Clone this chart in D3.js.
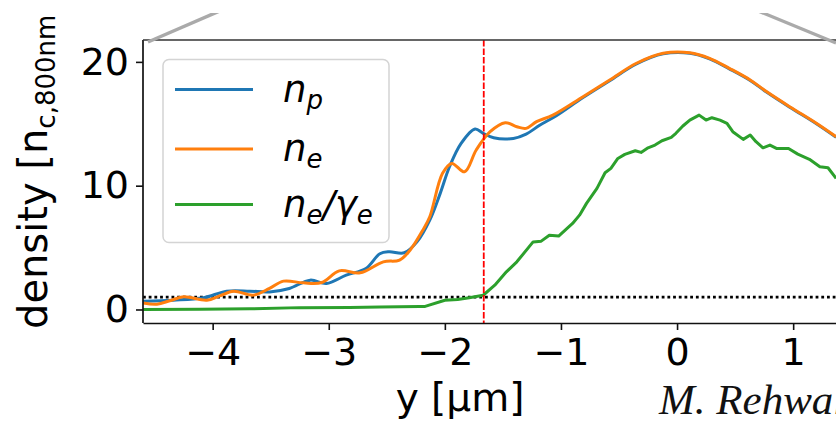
<!DOCTYPE html>
<html>
<head>
<meta charset="utf-8">
<script src="https://cdn.jsdelivr.net/npm/d3@7"></script>
<style>
    html, body { margin: 0; padding: 0; background: #fff; }
    #chart { width: 836px; height: 424px; }
</style>
</head>
<body>
<div id="chart"></div>
<script>
// transverse position y [um] and density [n_c]
const npY = [-4.60, -4.34, -4.08, -3.88, -3.68, -3.51, -3.34, -3.16, -3.02, -2.85, -2.68, -2.56, -2.48, -2.35, -2.24,
    -2.13, -2.04, -1.96, -1.86, -1.74, -1.67, -1.58, -1.41, -1.30, -1.18, -1.04, -0.81,
    -0.58, -0.35, -0.12, 0.11, 0.28, 0.45, 0.63, 0.77, 0.97, 1.20, 1.37];
const npVal = [0.67, 0.75, 0.94, 1.48, 1.48, 1.42, 1.70, 2.37, 2.10, 2.77, 3.31, 4.50, 4.66, 4.58, 5.46,
    7.22, 9.38, 11.53, 13.42, 14.58, 14.23, 13.87, 13.82, 14.17, 14.90, 15.65, 17.12,
    18.48, 19.83, 20.65, 20.70, 20.25, 19.44, 18.50, 17.56, 16.34, 15.00, 13.91];

const neY = [-4.60, -4.48, -4.37, -4.25, -4.05, -3.94, -3.82, -3.65, -3.51, -3.39, -3.22, -3.06, -2.91, -2.73, -2.53,
    -2.39, -2.30, -2.19, -2.13, -2.02, -1.94, -1.83, -1.73, -1.61, -1.48, -1.38, -1.30, -1.21, -1.07, -0.81,
    -0.58, -0.35, -0.12, 0.11, 0.28, 0.45, 0.63, 0.77, 0.97, 1.20, 1.37];
const neVal = [0.53, 0.43, 0.70, 1.02, 0.75, 1.10, 1.48, 1.16, 1.70, 2.29, 2.15, 2.18, 3.12, 2.96, 3.85,
    3.99, 4.79, 6.41, 7.49, 11.00, 11.80, 11.12, 12.88, 14.36, 15.09, 14.76, 14.63, 15.17, 15.70, 17.19,
    18.54, 19.89, 20.70, 20.74, 20.29, 19.48, 18.54, 17.60, 16.38, 15.04, 13.95];

const neGammaY = [-4.60, -4.11, -3.68, -3.25, -2.82, -2.56, -2.22, -2.17, -2.00, -1.89, -1.79, -1.67, -1.57, -1.47,
    -1.38, -1.24, -1.17, -1.10, -1.02, -0.90, -0.84, -0.78, -0.69, -0.62, -0.57, -0.51, -0.45, -0.36, -0.31,
    -0.25, -0.19, -0.13, -0.05, -0.01, 0.05, 0.11, 0.19, 0.25, 0.30, 0.37, 0.43, 0.48, 0.57, 0.63, 0.68,
    0.74, 0.80, 0.86, 0.96, 1.04, 1.14, 1.23, 1.30, 1.37];
const neGammaVal = [0.00, 0.02, 0.05, 0.15, 0.16, 0.20, 0.25, 0.25, 0.75, 0.80, 0.95, 1.15, 1.96, 3.04,
    3.85, 5.46, 5.52, 6.00, 5.93, 6.95, 7.62, 8.57, 9.78, 11.04, 11.40, 12.20, 12.53, 12.82, 12.69,
    13.06, 13.28, 13.63, 13.90, 14.23, 14.82, 15.30, 15.70, 15.30, 15.49, 15.30, 15.04, 14.36, 13.74, 14.09, 13.55,
    13.06, 13.28, 13.00, 13.00, 12.55, 12.13, 11.53, 11.45, 10.59];

const xTicks = [-4, -3, -2, -1, 0, 1];
const yTicks = [0, 10, 20];
const criticalDensity = 1;
const laserFrontY = -1.665;

const seriesNames = ['n_p', 'n_e', 'n_e/γ_e'];
const seriesColors = ['#1f77b4', '#ff7f0e', '#2ca02c'];

class DensityProfileChart {
    constructor(container) {
        this.container = container;
        this.width = 836;
        this.height = 424;
        this.svg = d3.select(container).append('svg')
            .attr('width', this.width)
            .attr('height', this.height);
    }

    draw() {
        const svg = this.svg;
        // axes box runs off the right edge of the picture
        const margin = { top: 40, left: 143, bottom: 101 };
        const plotBottom = this.height - margin.bottom;

        const x = d3.scaleLinear().domain([-4.6, 1.4]).range([margin.left, margin.left + 6 * 116.1]);
        const y = d3.scaleLinear().domain([-1.1, 21.8]).range([plotBottom + 0.1, margin.top - 0.4]);

        svg.append('clipPath').attr('id', 'plotClip')
            .append('rect')
            .attr('x', margin.left).attr('y', margin.top)
            .attr('width', this.width).attr('height', plotBottom - margin.top);

        const plot = svg.append('g').attr('clip-path', 'url(#plotClip)');

        // n_c reference line
        plot.append('line')
            .attr('x1', x(-4.6)).attr('x2', x(1.4))
            .attr('y1', y(criticalDensity)).attr('y2', y(criticalDensity))
            .style('stroke', '#000')
            .style('stroke-width', 2.8)
            .style('stroke-dasharray', '2.8,2.9');

        const smooth = d3.line()
            .x(d => x(d[0])).y(d => y(d[1]))
            .curve(d3.curveCatmullRom.alpha(0.5));
        const jagged = d3.line()
            .x(d => x(d[0])).y(d => y(d[1]));

        const series = [
            { pts: d3.zip(npY, npVal), gen: smooth },
            { pts: d3.zip(neY, neVal), gen: smooth },
            { pts: d3.zip(neGammaY, neGammaVal), gen: jagged }
        ];
        series.forEach((s, i) => {
            plot.append('path')
                .attr('d', s.gen(s.pts))
                .style('fill', 'none')
                .style('stroke', seriesColors[i])
                .style('stroke-width', 3)
                .style('stroke-linejoin', 'round');
        });

        // laser front position
        plot.append('line')
            .attr('x1', x(laserFrontY)).attr('x2', x(laserFrontY))
            .attr('y1', margin.top).attr('y2', plotBottom)
            .style('stroke', '#ff0000')
            .style('stroke-width', 1.8)
            .style('stroke-dasharray', '6.5,2');

        // axes
        const xAxis = svg.append('g')
            .attr('transform', `translate(0, ${plotBottom})`)
            .call(d3.axisBottom(x).tickValues(xTicks).tickFormat(d3.format('d'))
                .tickSize(7).tickSizeOuter(0).tickPadding(8));
        const yAxis = svg.append('g')
            .attr('transform', `translate(${margin.left}, 0)`)
            .call(d3.axisLeft(y).tickValues(yTicks).tickFormat(d3.format('d'))
                .tickSize(7).tickSizeOuter(0).tickPadding(7));

        [xAxis, yAxis].forEach(a => {
            a.select('.domain').style('stroke', '#111').style('stroke-width', 1.7);
            a.selectAll('.tick line').style('stroke', '#111').style('stroke-width', 1.6);
            a.selectAll('.tick text')
                .style('font-family', 'DejaVu Sans')
                .style('font-size', '38px')
                .style('fill', '#000');
        });
        // left axis spans the full box height
        yAxis.select('.domain').attr('d', `M0,${margin.top}V${plotBottom}`);

        svg.append('line')
            .attr('x1', margin.left).attr('x2', this.width)
            .attr('y1', margin.top).attr('y2', margin.top)
            .style('stroke', '#333')
            .style('stroke-width', 1.7);

        // zoom connector lines from the panel above
        svg.append('line')
            .attr('x1', margin.left + 5).attr('y1', margin.top + 2)
            .attr('x2', margin.left + 5 + 80).attr('y2', margin.top + 2 - 80 * 29 / 67)
            .style('stroke', '#aaa').style('stroke-width', 3.3);
        svg.append('line')
            .attr('x1', this.width).attr('y1', margin.top + 3)
            .attr('x2', this.width - 85).attr('y2', margin.top + 3 - 85 * 30 / 73)
            .style('stroke', '#aaa').style('stroke-width', 3.3);

        // axis labels
        svg.append('text')
            .attr('x', 460).attr('y', 411)
            .attr('text-anchor', 'middle')
            .style('font-family', 'DejaVu Sans')
            .style('font-size', '39px')
            .text('y [µm]');

        const yLabel = svg.append('text')
            .attr('transform', 'translate(47, 329) rotate(-90)')
            .style('font-family', 'DejaVu Sans')
            .style('font-size', '40px');
        yLabel.append('tspan').text('density [n');
        yLabel.append('tspan').attr('dy', 8).style('font-size', '26px').text('c,800nm');
        yLabel.append('tspan').attr('dy', -8).text(']');

        // legend
        const legend = svg.append('g').attr('transform', 'translate(163, 59.5)');
        legend.append('rect')
            .attr('width', 226).attr('height', 183)
            .attr('rx', 6)
            .style('fill', '#fff').style('fill-opacity', 0.8)
            .style('stroke', '#d4d4d4').style('stroke-width', 1.5);
        const rowY = [30, 89.5, 145];
        seriesNames.forEach((name, i) => {
            legend.append('line')
                .attr('x1', 12).attr('x2', 90)
                .attr('y1', rowY[i]).attr('y2', rowY[i])
                .style('stroke', seriesColors[i]).style('stroke-width', 3);
            const t = legend.append('text')
                .attr('x', 120).attr('y', rowY[i] + 12)
                .style('font-family', 'DejaVu Sans')
                .style('font-style', 'italic')
                .style('font-size', '37px');
            const parts = name.split('/');
            parts.forEach((p, k) => {
                const [base, sub] = p.split('_');
                t.append('tspan').attr('dy', k === 0 ? 0 : -7).text((k > 0 ? '/' : '') + base);
                t.append('tspan').attr('dy', 7).style('font-size', '26px').text(sub);
            });
        });

        // credit, cut off by the right edge like in the original
        svg.append('text')
            .attr('x', 659).attr('y', 414)
            .style('font-family', 'Liberation Serif')
            .style('font-style', 'italic')
            .style('font-size', '43px')
            .style('fill', '#111')
            .text('M. Rehwald');

        // picture is cut off along the top
        svg.append('rect')
            .attr('x', 0).attr('y', 0)
            .attr('width', this.width).attr('height', 13)
            .style('fill', '#fff');
    }
}

const chart = new DensityProfileChart(document.getElementById('chart'));
chart.draw();
</script>
</body>
</html>
